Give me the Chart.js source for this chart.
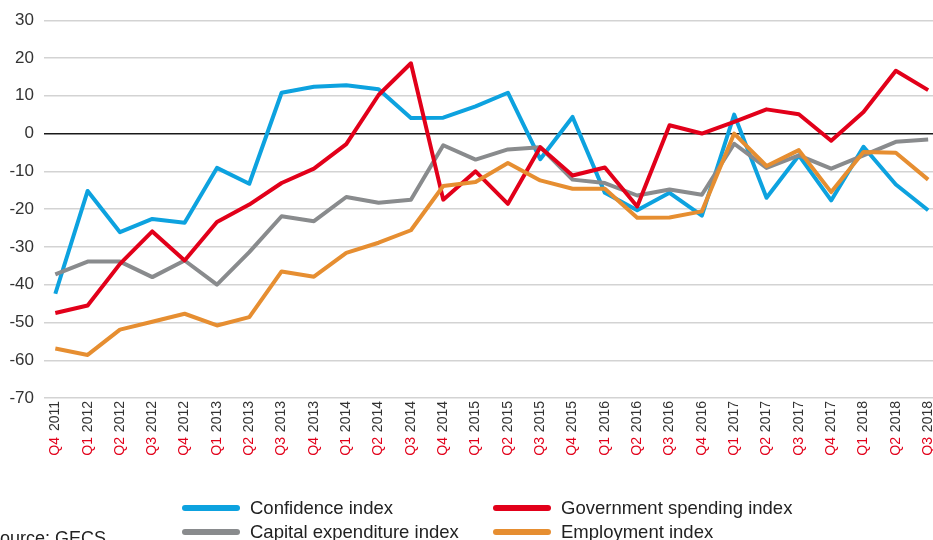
<!DOCTYPE html>
<html>
<head>
<meta charset="utf-8">
<script src="https://cdn.jsdelivr.net/npm/chart.js@4/dist/chart.umd.min.js"></script>
<style>
  html, body { margin: 0; padding: 0; background: #fff; overflow: hidden; }
  #wrap { position: relative; width: 933px; height: 540px; }
  #cv { position: absolute; left: 0; top: 0; }
  .lgTxt { position: absolute; font-family: 'Liberation Sans', Arial, sans-serif; font-size: 18.5px;
           color: #222; line-height: 22px; white-space: nowrap; }
  .lgSw  { position: absolute; width: 58px; height: 6px; border-radius: 3px; }
  #src   { position: absolute; left: -12px; top: 528px; font-family: 'Liberation Sans', Arial, sans-serif;
           font-size: 18px; color: #222; line-height: 20px; white-space: nowrap; }
</style>
</head>
<body>
<div id="wrap">
  <canvas id="cv" width="933" height="540"></canvas>
  <div id="legend"></div>
  <div id="src">Source: GECS</div>
</div>

<script>
/* =====================================================
   Indeks GECS per kuartal, Q4 2011 - Q3 2018
   ===================================================== */

// ---- Label sumbu X (kuartal + tahun, dua baris) ----
const quarters = ['Q4',
  'Q1', 'Q2', 'Q3', 'Q4', 'Q1', 'Q2', 'Q3', 'Q4', 'Q1', 'Q2', 'Q3', 'Q4',
  'Q1', 'Q2', 'Q3', 'Q4', 'Q1', 'Q2', 'Q3', 'Q4', 'Q1', 'Q2', 'Q3', 'Q4',
  'Q1', 'Q2', 'Q3'];
const years = ['2011',
  '2012', '2012', '2012', '2012', '2013', '2013', '2013', '2013',
  '2014', '2014', '2014', '2014', '2015', '2015', '2015', '2015',
  '2016', '2016', '2016', '2016', '2017', '2017', '2017', '2017',
  '2018', '2018', '2018'];

// ---- Nilai seri ----
const confidence = [-42.4, -15.2, -26.1, -22.6, -23.6, -9.1, -13.3, 10.8, 12.4, 12.8, 11.7, 4.1, 4.2, 7.2,
  10.8, -6.8, 4.4, -15.7, -20.3, -15.7, -21.7, 5.0, -17.0, -5.8, -17.7, -3.5, -13.5, -20.3];
const government = [-47.5, -45.5, -34.5, -25.9, -33.6, -23.4, -18.8, -13.1, -9.3, -2.8, 10.2, 18.6, -17.5, -10.0,
  -18.6, -3.6, -11.1, -9.0, -19.3, 2.2, 0.0, 3.1, 6.4, 5.1, -1.9, 5.7, 16.6, 11.5];
const capex = [-37.3, -33.9, -33.9, -38.0, -33.6, -40.0, -31.4, -21.9, -23.2, -16.8, -18.3, -17.5, -3.1, -6.9,
  -4.2, -3.6, -12.2, -13.1, -16.4, -14.8, -16.2, -2.7, -9.1, -5.8, -9.3, -5.8, -2.2, -1.6];
const employment = [-56.9, -58.6, -51.9, -49.8, -47.7, -50.8, -48.6, -36.5, -37.9, -31.6, -28.9, -25.6, -13.9, -12.8,
  -7.8, -12.4, -14.6, -14.6, -22.3, -22.2, -20.6, 0.0, -8.6, -4.4, -15.5, -4.9, -5.1, -12.2];

// ---- Seri + warna (urutan legend: baris demi baris) ----
const series = [
  { label: 'Confidence index',          data: confidence, color: '#0da2df', order: 4 },
  { label: 'Government spending index', data: government, color: '#e2001a', order: 2 },
  { label: 'Capital expenditure index', data: capex,      color: '#898b8d', order: 3 },
  { label: 'Employment index',          data: employment, color: '#e68e31', order: 1 }
];

const FONT = "'Liberation Sans', Arial, sans-serif";
const X_MIN = -0.35, X_MAX = 27.15;

// ---- Tick integer 0..27 untuk sumbu linear ----
function intTicks(axis) {
  axis.ticks = years.map((_, i) => ({ value: i }));
}
function noSidePad(axis) {
  axis.paddingLeft = 0; axis.paddingRight = 0;
}

// =====================================================
// CHART
// =====================================================
new Chart(document.getElementById('cv').getContext('2d'), {
  type: 'line',
  data: {
    datasets: series.map(s => ({
      label: s.label,
      data: s.data.map((v, i) => ({ x: i, y: v })),
      borderColor: s.color,
      backgroundColor: s.color,
      borderWidth: 4,
      tension: 0,
      pointRadius: 0,
      borderJoinStyle: 'round',
      order: s.order
    }))
  },
  options: {
    responsive: false,
    animation: false,
    layout: { padding: { top: 20, left: 0, right: 0, bottom: 84 } },
    plugins: { legend: { display: false }, tooltip: { enabled: false } },
    scales: {
      y: {
        min: -70, max: 30,
        border: { display: false },
        afterFit: s => { s.width = 44; },
        grid: {
          drawTicks: false,
          color: c => c.tick.value === 0 ? '#1a1a1a' : '#d3d3d3',
          lineWidth: c => c.tick.value === 0 ? 1.6 : 1.4
        },
        ticks: { stepSize: 10, padding: 10, color: '#333', font: { family: FONT, size: 17 } }
      },
      x: {
        type: 'linear', position: 'bottom', min: X_MIN, max: X_MAX,
        grid: { display: false, drawTicks: false }, border: { display: false },
        afterBuildTicks: intTicks,
        afterFit: s => { s.height = 37; noSidePad(s); },
        ticks: {
          autoSkip: false, minRotation: 90, maxRotation: 90, padding: 3,
          color: '#333', font: { family: FONT, size: 14 },
          callback: v => years[v]
        }
      },
      x2: {
        type: 'linear', position: 'bottom', min: X_MIN, max: X_MAX,
        grid: { display: false, drawTicks: false }, border: { display: false },
        afterBuildTicks: intTicks,
        afterFit: s => { s.height = 21; noSidePad(s); },
        ticks: {
          autoSkip: false, minRotation: 90, maxRotation: 90, padding: 2,
          color: '#e2001a', font: { family: FONT, size: 14 },
          callback: v => quarters[v]
        }
      }
    }
  }
});

// =====================================================
// LEGEND HTML (2 kolom x 2 baris)
// =====================================================
const lg = document.getElementById('legend');
series.forEach((s, i) => {
  const colX = i % 2 === 0 ? 182 : 493;
  const rowY = i < 2 ? 508 : 532;
  const sw = document.createElement('div');
  sw.className = 'lgSw';
  sw.style.left = colX + 'px';
  sw.style.top = (rowY - 3) + 'px';
  sw.style.background = s.color;
  const tx = document.createElement('div');
  tx.className = 'lgTxt';
  tx.style.left = (colX + 68) + 'px';
  tx.style.top = (rowY - 11) + 'px';
  tx.textContent = s.label;
  lg.appendChild(sw);
  lg.appendChild(tx);
});
</script>
</body>
</html>
